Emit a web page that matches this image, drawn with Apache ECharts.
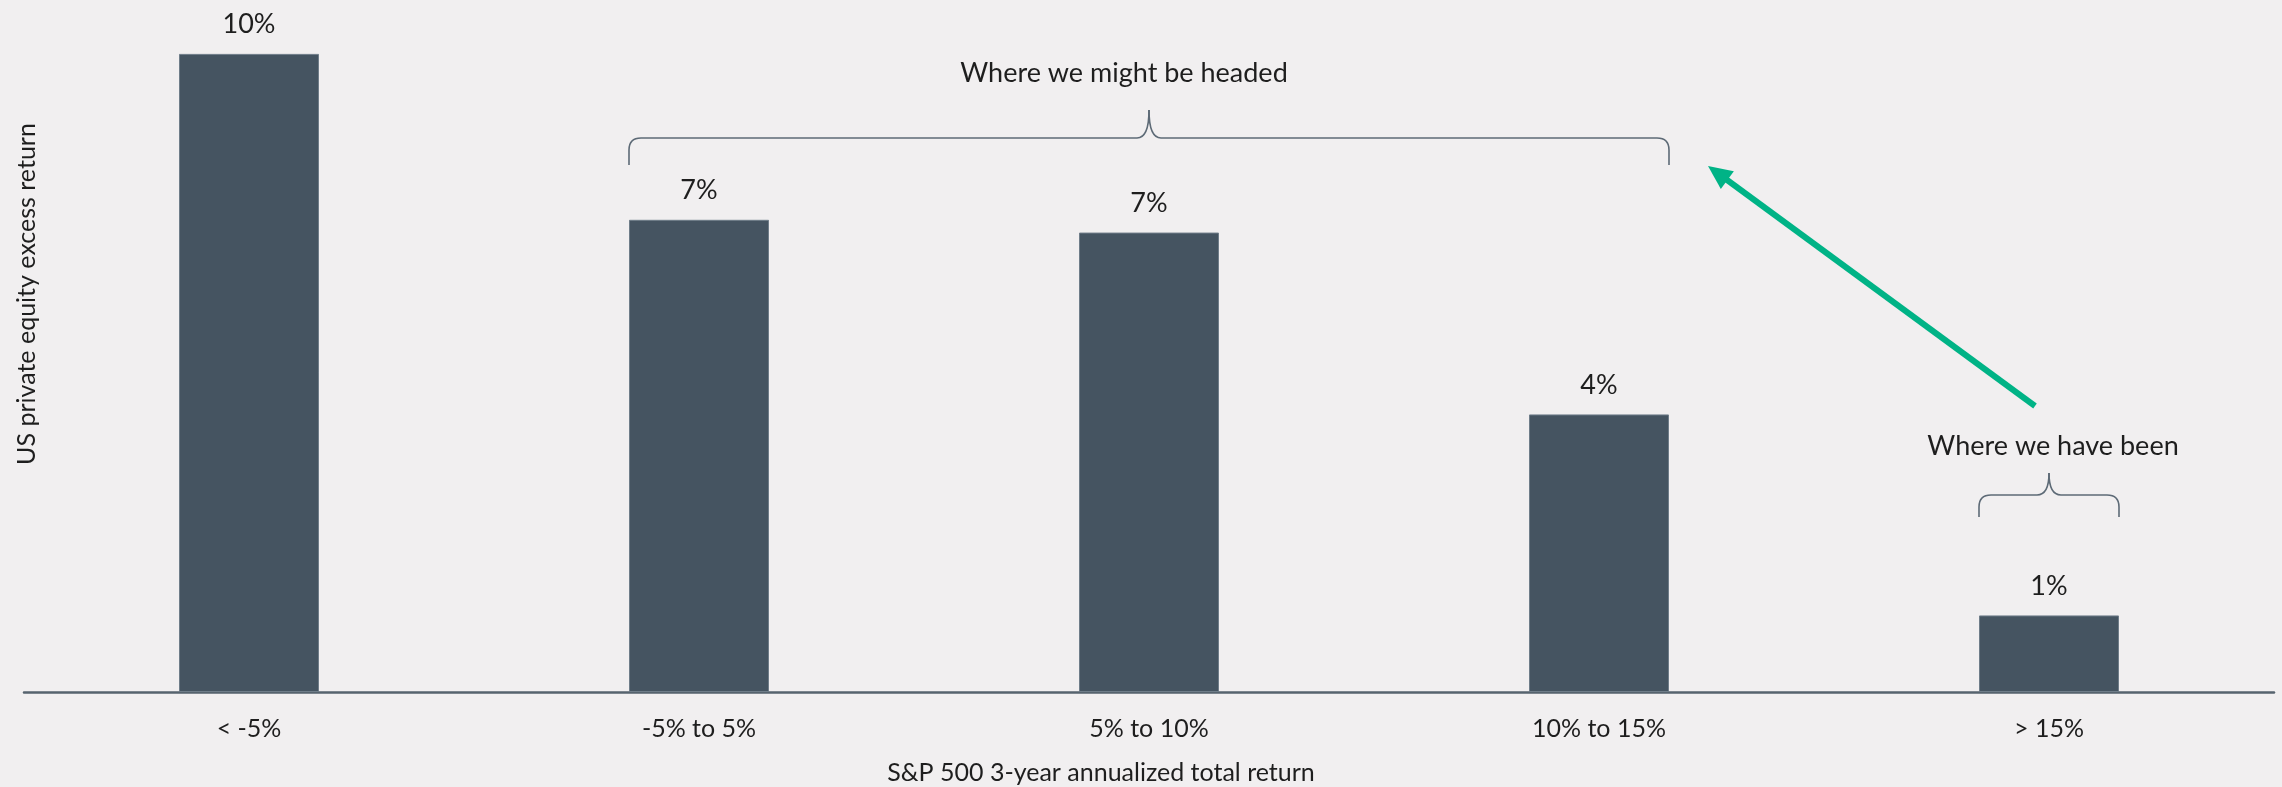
<!DOCTYPE html>
<html>
<head>
<meta charset="utf-8">
<script src="https://cdn.jsdelivr.net/npm/echarts@6/dist/echarts.min.js"></script>
<style>
  html, body { margin: 0; padding: 0; background: #f1eff0; }
  #chart { width: 2282px; height: 787px; }
</style>
</head>
<body>
<div id="chart"></div>
<script>
  // S&P 500 3-year annualized total return buckets
  const categories = ['< -5%', '-5% to 5%', '5% to 10%', '10% to 15%', '> 15%'];
  // US private equity excess return (bar heights, %)
  const excessReturn = [10.0, 7.4, 7.2, 4.35, 1.2];
  const valueLabels = ['10%', '7%', '7%', '4%', '1%'];

  // annotation groups: first and last category covered by each brace
  const headedSpan = ['-5% to 5%', '10% to 15%'];
  const headedText = 'Where we might be headed';
  const beenSpan = ['> 15%', '> 15%'];
  const beenText = 'Where we have been';

  const FONT = 'Lato, "Noto Sans", sans-serif';
  const TEXT = '#1e1e1e';
  const BAR = '#455461';
  const BRACE = '#5d6a76';
  const GREEN = '#00b386';
  const BAR_W = 140;

  let chart = echarts.init(document.getElementById('chart'), null, { renderer: 'canvas' });

  chart.setOption({
    backgroundColor: '#f1eff0',
    animation: false,
    grid: { left: 24, right: 8, top: 22, bottom: 95, outerBoundsMode: 'none' },
    xAxis: {
      type: 'category',
      data: categories,
      axisTick: { show: false },
      axisLine: { lineStyle: { color: '#56636e', width: 2.5 } },
      axisLabel: { color: TEXT, fontFamily: FONT, fontSize: 25, margin: 24 }
    },
    yAxis: {
      type: 'value',
      min: 0,
      max: 10.5,
      show: false,
      splitLine: { show: false }
    },
    series: [{
      type: 'bar',
      data: excessReturn,
      barWidth: BAR_W,
      itemStyle: { color: BAR, borderColor: '#6f7d89', borderWidth: 1 },
      label: {
        show: true,
        position: 'top',
        distance: 16,
        color: TEXT,
        fontFamily: FONT,
        fontSize: 27,
        formatter: p => valueLabels[p.dataIndex]
      }
    }]
  });

  // brace made of lines + quadratic curves: ends hang down, tip points up in the middle
  function brace(x1, x2, yLine, yEnd, yTip) {
    let r = 12;
    let mid = (x1 + x2) / 2;
    let st = { stroke: BRACE, lineWidth: 1.6, fill: null };
    let parts = [
      { type: 'line', shape: { x1: x1, y1: yEnd, x2: x1, y2: yLine + r } },
      { type: 'bezierCurve', shape: { x1: x1, y1: yLine + r, cpx1: x1, cpy1: yLine, x2: x1 + r, y2: yLine } },
      { type: 'line', shape: { x1: x1 + r, y1: yLine, x2: mid - r, y2: yLine } },
      { type: 'bezierCurve', shape: { x1: mid - r, y1: yLine, cpx1: mid, cpy1: yLine, x2: mid, y2: yTip } },
      { type: 'bezierCurve', shape: { x1: mid, y1: yTip, cpx1: mid, cpy1: yLine, x2: mid + r, y2: yLine } },
      { type: 'line', shape: { x1: mid + r, y1: yLine, x2: x2 - r, y2: yLine } },
      { type: 'bezierCurve', shape: { x1: x2 - r, y1: yLine, cpx1: x2, cpy1: yLine, x2: x2, y2: yLine + r } },
      { type: 'line', shape: { x1: x2, y1: yLine + r, x2: x2, y2: yEnd } }
    ];
    parts.forEach(p => { p.style = st; });
    return { type: 'group', children: parts };
  }

  function spanX(span) {
    let a = chart.convertToPixel({ xAxisIndex: 0 }, span[0]);
    let b = chart.convertToPixel({ xAxisIndex: 0 }, span[1]);
    return [a - BAR_W / 2, b + BAR_W / 2];
  }

  let hx = spanX(headedSpan);
  let bx = spanX(beenSpan);

  // arrow from "where we have been" towards the bigger brace
  let tail = [2035, 406];
  let tip = [1708, 166];
  let dx = tip[0] - tail[0], dy = tip[1] - tail[1];
  let len = Math.sqrt(dx * dx + dy * dy);
  let ux = dx / len, uy = dy / len;
  let headLen = 24, headHalf = 11;
  let baseX = tip[0] - ux * headLen, baseY = tip[1] - uy * headLen;

  chart.setOption({
    graphic: [
      brace(hx[0], hx[1], 138, 165, 110),
      {
        type: 'text',
        x: (hx[0] + hx[1]) / 2 - 25,
        y: 73,
        style: { text: headedText, font: '27px ' + FONT, fill: TEXT, textAlign: 'center', textVerticalAlign: 'middle' }
      },
      brace(bx[0], bx[1], 495, 517, 473),
      {
        type: 'text',
        x: (bx[0] + bx[1]) / 2 + 4,
        y: 446,
        style: { text: beenText, font: '27px ' + FONT, fill: TEXT, textAlign: 'center', textVerticalAlign: 'middle' }
      },
      {
        type: 'line',
        shape: { x1: tail[0], y1: tail[1], x2: baseX + ux * 2, y2: baseY + uy * 2 },
        style: { stroke: GREEN, lineWidth: 6 }
      },
      {
        type: 'polygon',
        shape: {
          points: [
            tip,
            [baseX - uy * headHalf, baseY + ux * headHalf],
            [baseX + uy * headHalf, baseY - ux * headHalf]
          ]
        },
        style: { fill: GREEN }
      },
      {
        type: 'text',
        x: 1101,
        y: 773,
        style: { text: 'S&P 500 3-year annualized total return', font: '25px ' + FONT, fill: TEXT, textAlign: 'center', textVerticalAlign: 'middle' }
      },
      {
        type: 'text',
        x: 27,
        y: 294,
        rotation: Math.PI / 2,
        style: { text: 'US private equity excess return', font: '25px ' + FONT, fill: TEXT, textAlign: 'center', textVerticalAlign: 'middle' }
      }
    ]
  });
</script>
</body>
</html>
